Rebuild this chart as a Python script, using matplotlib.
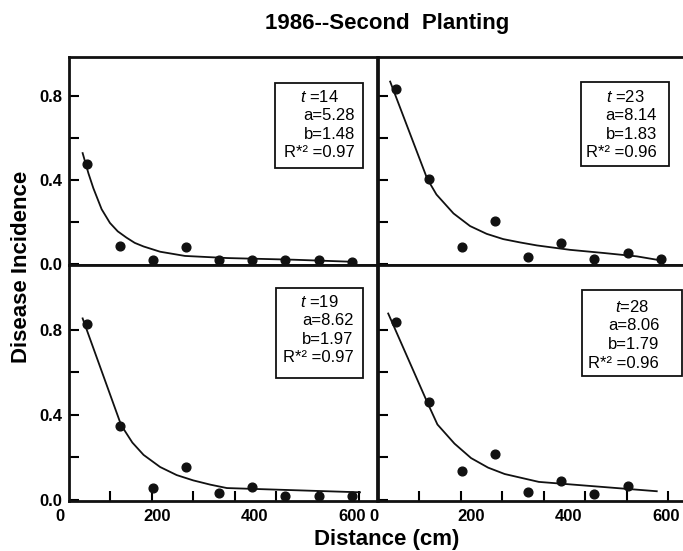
import matplotlib.pyplot as plt
from matplotlib.patches import Rectangle
from matplotlib.ticker import FixedLocator
from matplotlib.transforms import ScaledTranslation

plt.rcParams['font.family'] = ['Liberation Sans', 'DejaVu Sans']
plt.rcParams['mathtext.fontset'] = 'custom'
plt.rcParams['mathtext.it'] = 'Liberation Sans:italic'
plt.rcParams['mathtext.rm'] = 'Liberation Sans'

# distances of the sampled plants (cm)
distance = [36, 104, 172, 240, 308, 376, 444, 512, 580]

# observed disease incidence, one list per assessment
obs_t14 = [0.475, 0.086, 0.017, 0.080, 0.017, 0.020, 0.020, 0.020, 0.010]
obs_t23 = [0.831, 0.405, 0.080, 0.204, 0.033, 0.100, 0.025, 0.053, 0.025]
obs_t19 = [0.827, 0.350, 0.055, 0.154, 0.032, 0.063, 0.017, 0.017, 0.017]
obs_t28 = [0.838, 0.461, 0.138, 0.217, 0.039, 0.091, 0.028, 0.067]

# fitted curves as drawn in the figure
fit_x_t14 = [28, 40, 50, 67, 84, 100, 118, 135, 153, 187, 238, 324, 461, 584]
fit_y_t14 = [0.527, 0.43, 0.36, 0.26, 0.195, 0.155, 0.125, 0.10, 0.083, 0.058, 0.038, 0.028, 0.02, 0.01]
fit_x_t23 = [25, 101, 120, 155, 189, 223, 257, 292, 326, 394, 463, 531, 572]
fit_y_t23 = [0.867, 0.405, 0.33, 0.24, 0.18, 0.143, 0.118, 0.102, 0.088, 0.067, 0.052, 0.036, 0.020]
fit_x_t19 = [28, 107, 130, 153, 187, 221, 255, 290, 324, 597]
fit_y_t19 = [0.854, 0.352, 0.27, 0.212, 0.155, 0.117, 0.092, 0.072, 0.056, 0.036]
fit_x_t28 = [21, 101, 122, 157, 191, 226, 260, 330, 572]
fit_y_t28 = [0.877, 0.46, 0.355, 0.265, 0.197, 0.152, 0.122, 0.085, 0.041]

params = [
    (r'$t$ =14', 'a=5.28', 'b=1.48', 'R*\u00b2 =0.97'),
    (r'$t$ =23', 'a=8.14', 'b=1.83', 'R*\u00b2 =0.96'),
    (r'$t$ =19', 'a=8.62', 'b=1.97', 'R*\u00b2 =0.97'),
    (r'$t$=28', 'a=8.06', 'b=1.79', 'R*\u00b2 =0.96'),
]

fig = plt.figure(figsize=(6.83, 5.51), dpi=100)

W = 0.451
positions = [
    [0.1010, 0.5191, W, 0.3775],
    [0.5534, 0.5191, W, 0.3775],
    [0.1010, 0.0907, W, 0.4283],
    [0.5534, 0.0907, W, 0.4283],
]
ylims = [(-0.005, 0.984), (-0.005, 0.984), (-0.005, 1.105), (-0.005, 1.105)]
boxes = [
    (0.669, 0.465, 0.955, 0.876),
    (0.658, 0.476, 0.946, 0.881),
    (0.672, 0.520, 0.955, 0.901),
    (0.661, 0.530, 0.986, 0.894),
]
text_right = [0.929, 0.905, 0.923, 0.913]
text_top = [0.809, 0.809, 0.845, 0.823]
label_shift = {2: -0.09, 3: -0.04}   # inches

series = [
    (obs_t14, fit_x_t14, fit_y_t14),
    (obs_t23, fit_x_t23, fit_y_t23),
    (obs_t19, fit_x_t19, fit_y_t19),
    (obs_t28, fit_x_t28, fit_y_t28),
]

for i, (pos, (obs, fx, fy)) in enumerate(zip(positions, series)):
    ax = fig.add_axes(pos)
    ax.plot(fx, fy, color='#111111', lw=1.3, zorder=2)
    ax.plot(distance[:len(obs)], obs, 'o', color='#111111', ms=6.3, zorder=3)
    ax.set_xlim(0, 632)
    ax.set_ylim(*ylims[i])
    for s in ax.spines.values():
        s.set_linewidth(2)
        s.set_color('#111111')

    ax.yaxis.set_major_locator(FixedLocator([0, 0.2, 0.4, 0.6, 0.8]))
    ax.set_yticklabels(['0.0', '', '0.4', '', '0.8'])
    ax.tick_params(axis='y', direction='in', length=7, width=1.5,
                   labelsize=12, pad=5, labelleft=(i % 2 == 0))
    for lab in ax.get_yticklabels():
        lab.set_fontweight('bold')

    if i < 2:
        ax.set_xticks([])
    else:
        ax.set_xticks([0, 200, 400, 600])
        ax.set_xticklabels(['0', '200', '400', '600'], fontweight='bold')
        ax.set_xticks([85 * k for k in range(1, 8)], minor=True)
        ax.tick_params(axis='x', which='major', length=0, labelsize=12, pad=6)
        ax.tick_params(axis='x', which='minor', direction='in', length=7, width=1.5)
        # labels sit a little left of their nominal place in the original
        shift = ScaledTranslation(label_shift[i], 0, fig.dpi_scale_trans)
        for lab in ax.get_xticklabels():
            lab.set_transform(lab.get_transform() + shift)

    x0, y0, x1, y1 = boxes[i]
    ax.add_patch(Rectangle((x0, y0), x1 - x0, y1 - y0, transform=ax.transAxes,
                           fill=False, lw=1.3, ec='#111111', zorder=4))
    lines = params[i]
    ax.annotate(lines[0], xy=((x0 + x1) / 2, text_top[i]), xycoords='axes fraction',
                ha='center', va='center', fontsize=12)
    for j, line in enumerate(lines[1:], start=1):
        ax.annotate(line, xy=(text_right[i], text_top[i]), xycoords='axes fraction',
                    xytext=(0, -13.5 * j), textcoords='offset points',
                    ha='right', va='center', fontsize=12)

fig.text(0.5666, 0.958, '1986--Second  Planting', ha='center', va='center',
         fontsize=16, fontweight='bold')
fig.text(0.032, 0.515, 'Disease Incidence', ha='center', va='center',
         rotation=90, fontsize=16, fontweight='bold')
fig.text(0.566, 0.02, 'Distance (cm)', ha='center', va='center',
         fontsize=16, fontweight='bold')

fig.savefig('out.png', dpi=100)
